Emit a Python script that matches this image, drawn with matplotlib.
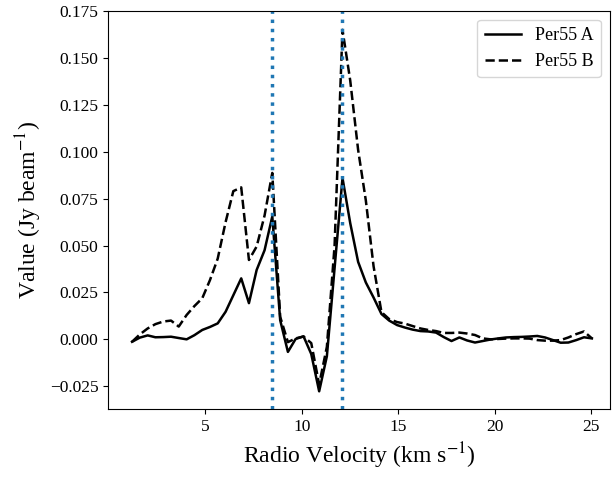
import matplotlib
matplotlib.use("Agg")
import matplotlib.pyplot as plt

plt.rcParams['font.family'] = ['Liberation Serif', 'DejaVu Serif']
plt.rcParams['mathtext.fontset'] = 'stix'

velocity = [1.20, 1.60, 2.01, 2.41, 2.82, 3.22, 3.62, 4.03, 4.43, 4.84,
            5.24, 5.64, 6.05, 6.45, 6.86, 7.26, 7.66, 8.07, 8.47, 8.88,
            9.28, 9.68, 10.09, 10.49, 10.90, 11.30, 11.70, 12.11, 12.51, 12.92,
            13.32, 13.72, 14.13, 14.53, 14.94, 15.34, 15.74, 16.15, 16.55, 16.96,
            17.36, 17.76, 18.17, 18.57, 18.98, 19.38, 19.78, 20.19, 20.59, 21.00,
            21.40, 21.80, 22.21, 22.61, 23.02, 23.42, 23.82, 24.23, 24.63, 25.04]

per55_a = [-0.0013, 0.0009, 0.0021, 0.0011, 0.0012, 0.0014, 0.0007, 0.0000, 0.0022, 0.0050,
           0.0066, 0.0085, 0.0147, 0.0235, 0.0325, 0.0193, 0.0370, 0.0475, 0.0655, 0.0102,
           -0.0067, 0.0002, 0.0016, -0.0078, -0.0277, -0.0090, 0.0380, 0.0860, 0.0620, 0.0413,
           0.0303, 0.0223, 0.0135, 0.0100, 0.0076, 0.0063, 0.0052, 0.0044, 0.0042, 0.0036,
           0.0012, -0.0009, 0.0010, -0.0006, -0.0017, -0.0009, -0.0001, 0.0005, 0.0010, 0.0012,
           0.0013, 0.0015, 0.0018, 0.0010, -0.0004, -0.0018, -0.0017, -0.0004, 0.0011, 0.0005]

per55_b = [-0.0013, 0.0026, 0.0058, 0.0081, 0.0095, 0.0100, 0.0068, 0.0130, 0.0177, 0.0219,
           0.0316, 0.0430, 0.0625, 0.0790, 0.0810, 0.0423, 0.0495, 0.0660, 0.0887, 0.0120,
           -0.0015, 0.0005, 0.0015, -0.0020, -0.0240, -0.0040, 0.0500, 0.1650, 0.1380, 0.1010,
           0.0740, 0.0390, 0.0145, 0.0108, 0.0092, 0.0084, 0.0071, 0.0058, 0.0050, 0.0044,
           0.0034, 0.0034, 0.0036, 0.0031, 0.0023, 0.0005, 0.0000, 0.0002, 0.0004, 0.0005,
           0.0005, 0.0004, -0.0004, -0.0007, -0.0007, -0.0004, 0.0010, 0.0028, 0.0042, 0.0005]

vlines = [8.47, 12.11]
labels = ['Per55 A', 'Per55 B']

fig = plt.figure(figsize=(6.12, 4.79), dpi=100)
ax = fig.add_axes([0.177, 0.1455, 0.8198, 0.8322])

ax.plot(velocity, per55_a, color='black', linestyle='-', linewidth=1.8, label=labels[0])
ax.plot(velocity, per55_b, color='black', linestyle='--', linewidth=1.8, label=labels[1])
for v in vlines:
    ax.axvline(v, color='#1f77b4', linestyle=':', linewidth=2.5)

ax.set_xlim(-0.03, 25.98)
ax.set_ylim(-0.0373, 0.1752)
ax.set_xticks([5, 10, 15, 20, 25])
ax.set_yticks([-0.025, 0.0, 0.025, 0.05, 0.075, 0.1, 0.125, 0.15, 0.175])
ax.tick_params(labelsize=12.5)
ax.set_xlabel('Radio Velocity (km s$^{-1}$)', fontsize=17)
ax.set_ylabel('Value (Jy beam$^{-1}$)', fontsize=17)
ax.legend(loc='upper right', fontsize=13)

fig.savefig('out.png', dpi=100)
